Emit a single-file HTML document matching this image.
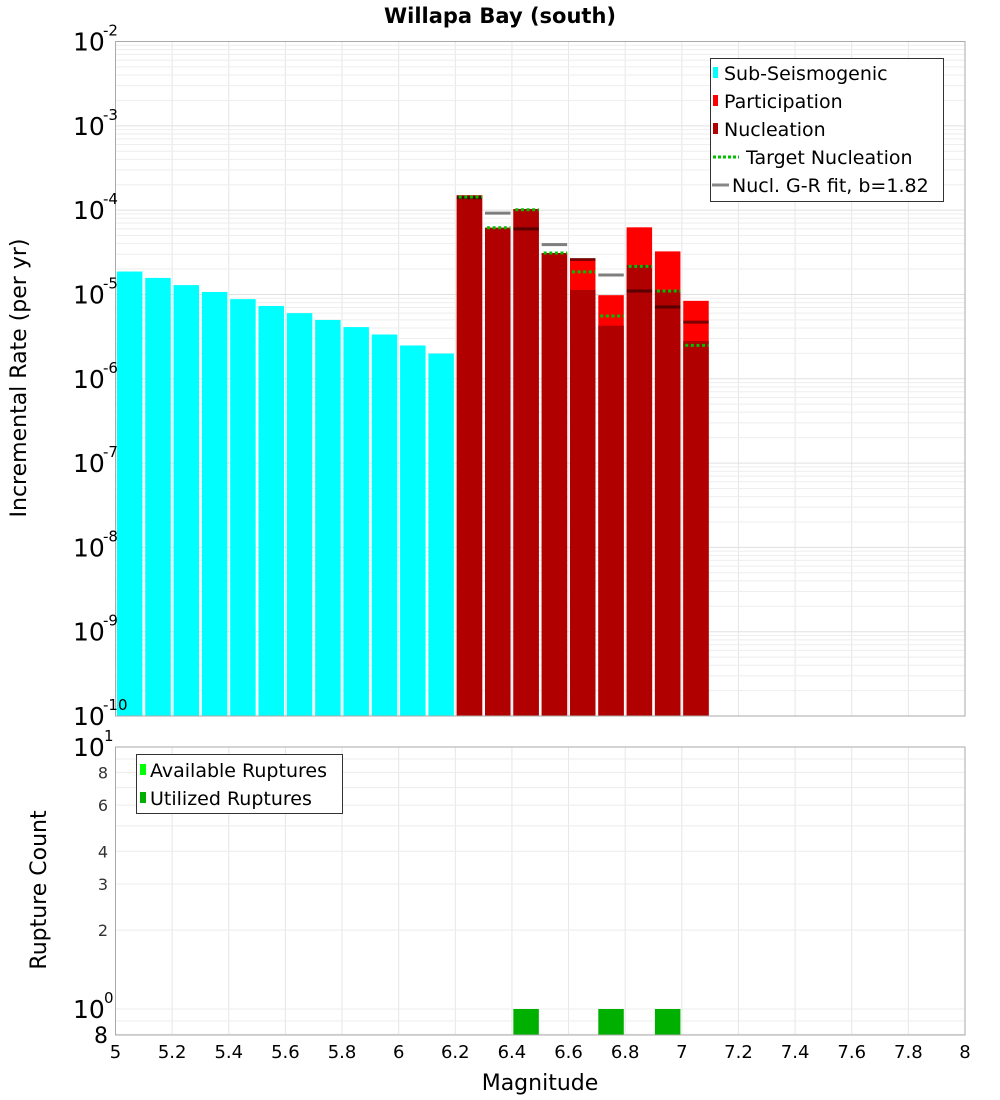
<!DOCTYPE html>
<html><head><meta charset="utf-8"><style>
body{margin:0;background:#fff;}
svg{display:block;font-family:"DejaVu Sans","Liberation Sans",sans-serif;}
</style></head><body>
<svg id="chart" width="1000" height="1100" viewBox="0 0 1000 1100" xmlns="http://www.w3.org/2000/svg">
<text x="500" y="23" text-anchor="middle" font-weight="bold" font-size="21">Willapa Bay (south)</text>
<g id="top-grid"></g>
<g id="bot-grid"></g>
<g id="top-marks"></g>
<g id="bot-marks"></g>
<rect x="115.5" y="41.5" width="849.5" height="674.5" fill="none" stroke="#aaa"/>
<rect x="115.5" y="747" width="849.5" height="288" fill="none" stroke="#aaa"/>
<g id="axes"></g>
<text transform="translate(26,378) rotate(-90)" text-anchor="middle" font-size="22">Incremental Rate (per yr)</text>
<text transform="translate(46,890) rotate(-90)" text-anchor="middle" font-size="22">Rupture Count</text>
<text x="540" y="1090" text-anchor="middle" font-size="22">Magnitude</text>
<g>
<rect x="710.5" y="58.5" width="233" height="143" fill="#fff" stroke="#333"/>
<rect x="713" y="67" width="5" height="11" fill="#00ffff"/>
<text x="724" y="80" font-size="19">Sub-Seismogenic</text>
<rect x="713" y="95" width="5" height="11" fill="#ff0000"/>
<text x="724" y="108" font-size="19">Participation</text>
<rect x="713" y="123" width="5" height="11" fill="#b00000"/>
<text x="724" y="136" font-size="19">Nucleation</text>
<line x1="713" y1="157" x2="739" y2="157" stroke="#00c000" stroke-width="3" stroke-dasharray="3,2"/>
<text x="746" y="164" font-size="19">Target Nucleation</text>
<line x1="712" y1="185" x2="729" y2="185" stroke="#888" stroke-width="3"/>
<text x="732" y="192" font-size="19">Nucl. G-R fit, b=1.82</text>
</g>
<g>
<rect x="136.5" y="754.5" width="206" height="59" fill="#fff" stroke="#333"/>
<rect x="140" y="764" width="6" height="11" fill="#00ff00"/>
<text x="150" y="777" font-size="19">Available Ruptures</text>
<rect x="140" y="792" width="6" height="11" fill="#00b000"/>
<text x="150" y="805" font-size="19">Utilized Ruptures</text>
</g>
</svg>
<script>
const subMags=[5.05,5.15,5.25,5.35,5.45,5.55,5.65,5.75,5.85,5.95,6.05,6.15];
const subRates=[1.87e-5,1.57e-5,1.29e-5,1.07e-5,8.8e-6,7.3e-6,6.0e-6,4.98e-6,4.1e-6,3.35e-6,2.48e-6,1.99e-6];
const supMags=[6.25,6.35,6.45,6.55,6.65,6.75,6.85,6.95,7.05];
const partRates=[1.50e-4,6.18e-5,1.03e-4,3.10e-5,2.68e-5,9.8e-6,6.25e-5,3.24e-5,8.4e-6];
const nuclRates=[1.50e-4,6.18e-5,1.03e-4,3.10e-5,1.13e-5,4.26e-6,2.23e-5,1.13e-5,2.80e-6];
const targetRates=[1.43e-4,6.18e-5,1.01e-4,3.10e-5,1.85e-5,5.55e-6,2.15e-5,1.10e-5,2.49e-6];
const grRates=[1.40e-4,9.2e-5,6.0e-5,3.9e-5,2.6e-5,1.7e-5,1.1e-5,7.1e-6,4.7e-6];
const countMags=[6.45,6.75,6.95];
const utilizedCounts=[1,1,1];
const xTicks=[5,5.2,5.4,5.6,5.8,6,6.2,6.4,6.6,6.8,7,7.2,7.4,7.6,7.8,8];
const xTickLabels=["5","5.2","5.4","5.6","5.8","6","6.2","6.4","6.6","6.8","7","7.2","7.4","7.6","7.8","8"];
const topExps=[-2,-3,-4,-5,-6,-7,-8,-9,-10];
const botTicks=[2,3,4,6,8];

const NS="http://www.w3.org/2000/svg";
const X0=115.5,X1=965,XMIN=5,XMAX=8;
const xs=m=>X0+(m-XMIN)/(XMAX-XMIN)*(X1-X0);
const TY0=41.5,TY1=716;
const ty=v=>TY0+(-2-Math.log10(v))/8*(TY1-TY0);
const BY0=747,BY1=1035,BDEC=262;
const by=v=>Math.min(BY1,BY0+(1-Math.log10(v))*BDEC);
function mk(parent,tag,attrs){const e=document.createElementNS(NS,tag);for(const k in attrs)e.setAttribute(k,attrs[k]);document.getElementById(parent).appendChild(e);return e;}

// grids
for(const t of xTicks){
 let g=mk('top-grid','line',{x1:xs(t),x2:xs(t),y1:TY0,y2:TY1,stroke:'#e6e6e6'});
 
 
 let h=mk('bot-grid','line',{x1:xs(t),x2:xs(t),y1:BY0,y2:BY1,stroke:'#e6e6e6'});
 
 
}
for(let e=-10;e<-2;e++){for(let k=1;k<10;k++){const y=ty(k*Math.pow(10,e));
 let g=mk('top-grid','line',{x1:X0,x2:X1,y1:y,y2:y,stroke:k==1?'#e0e0e0':'#eeeeee'});
 
 }}
for(const v of [0.8,0.9,1,2,3,4,5,6,7,8,9]){const y=by(v);
 let g=mk('bot-grid','line',{x1:X0,x2:X1,y1:y,y2:y,stroke:'#ececec'});
 
 }

// bars
const BW=0.09;
subMags.forEach((m,i)=>{
 let r=mk('top-marks','rect',{x:xs(m-BW/2),width:xs(m+BW/2)-xs(m-BW/2),y:ty(subRates[i]),height:TY1-ty(subRates[i]),fill:'#00ffff'});
 
 
});
supMags.forEach((m,i)=>{
 let r=mk('top-marks','rect',{x:xs(m-BW/2),width:xs(m+BW/2)-xs(m-BW/2),y:ty(partRates[i]),height:TY1-ty(partRates[i]),fill:'#ff0000'});
 
 
 let n=mk('top-marks','rect',{x:xs(m-BW/2),width:xs(m+BW/2)-xs(m-BW/2),y:ty(nuclRates[i]),height:TY1-ty(nuclRates[i]),fill:'#b00000'});
 
 
});
supMags.forEach((m,i)=>{
 const y=ty(grRates[i]);
 let l=mk('top-marks','line',{x1:xs(m-0.045),x2:xs(m+0.045),y1:y,y2:y,stroke:'rgba(0,0,0,0.5)','stroke-width':3});
 
 
 const t=ty(targetRates[i]);
 let d=mk('top-marks','line',{x1:xs(m-0.045)+2,x2:xs(m+0.045),y1:t,y2:t,stroke:'#00c000','stroke-width':3,'stroke-dasharray':'3,2.6'});
 
 
});
countMags.forEach((m,i)=>{
 const y=by(utilizedCounts[i]);
 let r=mk('bot-marks','rect',{x:xs(m-BW/2),width:xs(m+BW/2)-xs(m-BW/2),y:y,height:BY1-y,fill:'#00b000'});
 
 
});

// axes labels
xTicks.forEach((t,i)=>{
 let tx=mk('axes','text',{x:xs(t),y:1058,'text-anchor':'middle','font-size':18});
 tx.textContent=xTickLabels[i];
 
 
});
topExps.forEach(e=>{
 const y=ty(Math.pow(10,e));
 let tx=mk('axes','text',{x:73,y:y+9,'font-size':25});
 tx.textContent='10';
 
 
 let sp=mk('axes','text',{x:103,y:y-6,'font-size':15});
 sp.textContent=String(e);
 
 
});
[[10,'1'],[1,'0']].forEach(([v,e])=>{
 const y=by(v);
 let tx=mk('axes','text',{x:73,y:y+9,'font-size':25});
 tx.textContent='10';
 
 
 let sp=mk('axes','text',{x:104,y:y-6,'font-size':15});
 sp.textContent=e;
 
 
});
botTicks.forEach(v=>{
 let tx=mk('axes','text',{x:108,y:by(v)+6,'text-anchor':'end','font-size':16,fill:'#333'});
 tx.textContent=String(v);
 
 
});
let b8=mk('axes','text',{x:108,y:1043,'text-anchor':'end','font-size':22});
b8.textContent='8';


</script>
</body></html>
